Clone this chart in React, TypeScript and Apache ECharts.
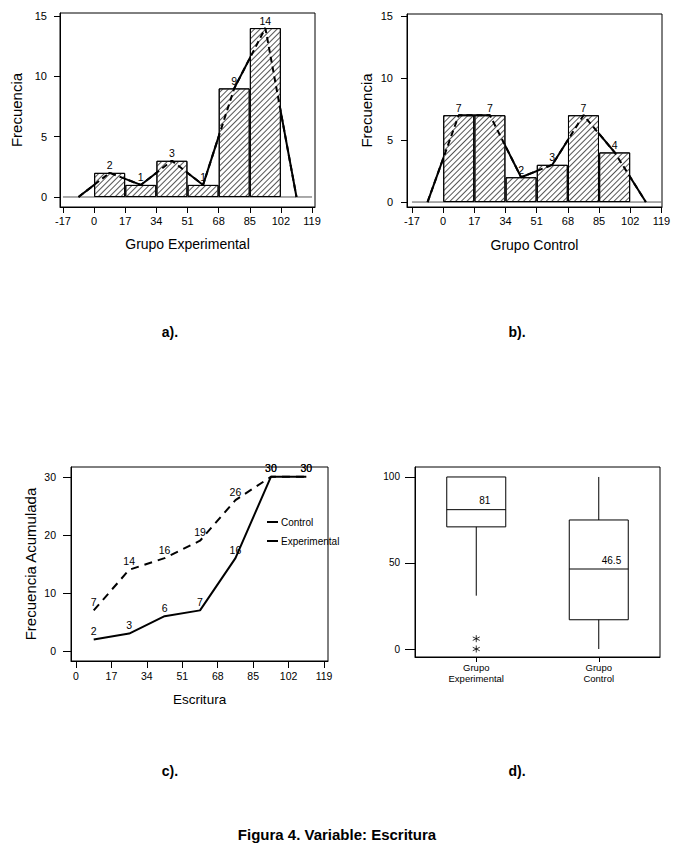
import React, { useEffect, useRef } from "react";
import * as echarts from "echarts";

// ---------- data ----------
const histTicks = [-17, 0, 17, 34, 51, 68, 85, 102, 119];
const binMids = [8.5, 25.5, 42.5, 59.5, 76.5, 93.5];
const polyX = [-8.5, 8.5, 25.5, 42.5, 59.5, 76.5, 93.5, 110.5];
const expFreq = [2, 1, 3, 1, 9, 14];
const ctrlFreq = [7, 7, 2, 3, 7, 4];
const freqTicks = [0, 5, 10, 15];

const cumX = [8.5, 25.5, 42.5, 59.5, 76.5, 93.5, 110.5];
const ctrlCum = [7, 14, 16, 19, 26, 30, 30];
const expCum = [2, 3, 6, 7, 16, 30, 30];
const cumXTicks = [0, 17, 34, 51, 68, 85, 102, 119];
const cumYTicks = [0, 10, 20, 30];

const boxGroups = ["Grupo\nExperimental", "Grupo\nControl"];
// [min, Q1, median, Q3, max]
const boxExp = [31, 71, 81, 100, 100];
const boxCtrl = [0, 17, 46.5, 75, 100];
const medianLabels = ["81", "46.5"];
const expOutliers = [6, 0];
const boxYTicks = [0, 50, 100];

const FONT = "'Liberation Sans', Arial, sans-serif";

const decal = {
  symbol: "rect",
  symbolSize: 1,
  dashArrayX: [1, 0],
  dashArrayY: [1, 2.2],
  rotation: -Math.PI / 4,
  color: "#555",
};

function valAxis(gridIndex: number, min: number, max: number, ticks: number[], extra: any = {}) {
  return {
    type: "value",
    gridIndex,
    min,
    max,
    splitLine: { show: false },
    axisLine: { show: true, onZero: false, lineStyle: { color: "#000", width: 1 } },
    axisTick: { show: true, length: 6, customValues: ticks, lineStyle: { color: "#000" } },
    axisLabel: { customValues: ticks, color: "#000", fontSize: 11, fontFamily: FONT, margin: 8 },
    nameLocation: "middle",
    nameTextStyle: { color: "#000", fontSize: 14, fontFamily: FONT },
    ...extra,
  };
}

function polyData(freq: number[]) {
  const ys = [0, ...freq, 0];
  return polyX.map((x, i) => [x, ys[i]]);
}

const labelCommon = { show: true, position: "top", distance: 2, color: "#000", fontSize: 10.5, fontFamily: FONT };

function histSeries(idx: number, freq: number[]) {
  const pts = polyData(freq);
  return [
    {
      type: "line",
      xAxisIndex: idx,
      yAxisIndex: idx,
      data: [[histTicks[0], 0], [histTicks[histTicks.length - 1], 0]],
      symbol: "none",
      lineStyle: { color: "#555", width: 1 },
      z: 1,
      silent: true,
    },
    {
      type: "line",
      xAxisIndex: idx,
      yAxisIndex: idx,
      data: pts,
      symbol: "none",
      lineStyle: { color: "#000", width: 2 },
      z: 2,
      silent: true,
    },
    {
      type: "bar",
      xAxisIndex: idx,
      yAxisIndex: idx,
      data: binMids.map((x, i) => [x, freq[i]]),
      barWidth: 31,
      itemStyle: { color: "#fff", borderColor: "#000", borderWidth: 1, decal },
      z: 3,
      silent: true,
    },
    {
      type: "line",
      xAxisIndex: idx,
      yAxisIndex: idx,
      data: pts,
      symbol: "circle",
      symbolSize: 0,
      showAllSymbol: true,
      itemStyle: { color: "#000" },
      lineStyle: { color: "#000", width: 2, type: [6, 4] },
      label: { ...labelCommon, formatter: (p: any) => (p.value[1] ? String(p.value[1]) : "") },
      labelLayout: { hideOverlap: false },
      z: 4,
      silent: true,
    },
  ];
}

export default function App() {
  const ref = useRef<HTMLDivElement>(null);
  useEffect(() => {
    if (!ref.current) return;
    const chart = echarts.init(ref.current, undefined, { renderer: "svg" });
    const gridStyle = { show: true, borderColor: "#000", borderWidth: 1, backgroundColor: "transparent", containLabel: false };
    const option: any = {
      animation: false,
      textStyle: { fontFamily: FONT },
      grid: [
        { ...gridStyle, left: 60, top: 13, width: 255, height: 194 },
        { ...gridStyle, left: 407, top: 14, width: 255, height: 193 },
        { ...gridStyle, left: 71, top: 467, width: 257, height: 194 },
        { ...gridStyle, left: 415, top: 467, width: 245, height: 190 },
      ],
      xAxis: [
        valAxis(0, -18.6, 120.6, histTicks, { name: "Grupo Experimental", nameGap: 30 }),
        valAxis(1, -19.7, 119.3, histTicks, { name: "Grupo Control", nameGap: 31 }),
        valAxis(2, -2.4, 120.9, cumXTicks, {
          name: "Escritura",
          nameGap: 31,
          nameTextStyle: { color: "#000", fontSize: 13.5, fontFamily: FONT },
          axisLabel: { customValues: cumXTicks, color: "#000", fontSize: 10.5, fontFamily: FONT, margin: 9 },
          axisTick: { show: true, length: 7, customValues: cumXTicks, lineStyle: { color: "#000" } },
        }),
        {
          type: "category",
          gridIndex: 3,
          data: boxGroups,
          boundaryGap: true,
          axisLine: { show: true, onZero: false, lineStyle: { color: "#000" } },
          axisTick: { show: true, alignWithLabel: true, length: 5, lineStyle: { color: "#000" } },
          axisLabel: { color: "#000", fontSize: 9.5, lineHeight: 11, fontFamily: FONT, margin: 5, interval: 0 },
          splitLine: { show: false },
        },
      ],
      yAxis: [
        valAxis(0, -0.83, 15.25, freqTicks, { name: "Frecuencia", nameGap: 36, nameTextStyle: { color: "#000", fontSize: 15, fontFamily: FONT }, axisLabel: { customValues: freqTicks, color: "#000", fontSize: 11, fontFamily: FONT, margin: 13 } }),
        valAxis(1, -0.4, 15.16, freqTicks, { name: "Frecuencia", nameGap: 33, nameTextStyle: { color: "#000", fontSize: 15, fontFamily: FONT }, axisLabel: { customValues: freqTicks, color: "#000", fontSize: 11, fontFamily: FONT, margin: 14 } }),
        valAxis(2, -1.72, 31.7, cumYTicks, {
          name: "Frecuencia Acumulada",
          nameGap: 33,
          nameTextStyle: { color: "#000", fontSize: 15, fontFamily: FONT },
          axisLabel: { customValues: cumYTicks, color: "#000", fontSize: 10.5, fontFamily: FONT, margin: 15 },
          axisTick: { show: true, length: 8, customValues: cumYTicks, lineStyle: { color: "#000" } },
        }),
        valAxis(3, -4.65, 105.8, boxYTicks, {
          axisLabel: { customValues: boxYTicks, color: "#000", fontSize: 10, fontFamily: FONT, margin: 15 },
          axisTick: { show: true, length: 10, customValues: boxYTicks, lineStyle: { color: "#000" } },
        }),
      ],
      legend: {
        data: [
          { name: "Control", icon: "rect" },
          { name: "Experimental", icon: "rect" },
        ],
        orient: "vertical",
        left: 262,
        top: 512,
        itemWidth: 11,
        itemHeight: 2,
        itemGap: 9,
        selectedMode: false,
        textStyle: { color: "#000", fontSize: 10, fontFamily: FONT, padding: [0, 0, 0, -2] },
      },
      series: [
        ...histSeries(0, expFreq),
        ...histSeries(1, ctrlFreq),
        {
          name: "Control",
          type: "line",
          xAxisIndex: 2,
          yAxisIndex: 2,
          data: cumX.map((x, i) => [x, ctrlCum[i]]),
          symbol: "circle",
          symbolSize: 0,
          showAllSymbol: true,
          itemStyle: { color: "#000" },
          lineStyle: { color: "#000", width: 2, type: [8, 6] },
          label: { ...labelCommon, distance: 3, formatter: (p: any) => String(p.value[1]) },
          labelLayout: { hideOverlap: false },
        },
        {
          name: "Experimental",
          type: "line",
          xAxisIndex: 2,
          yAxisIndex: 2,
          data: cumX.map((x, i) => [x, expCum[i]]),
          symbol: "circle",
          symbolSize: 0,
          showAllSymbol: true,
          itemStyle: { color: "#000" },
          lineStyle: { color: "#000", width: 2 },
          label: { ...labelCommon, distance: 3, formatter: (p: any) => String(p.value[1]) },
          labelLayout: { hideOverlap: false },
        },
        {
          type: "custom",
          xAxisIndex: 3,
          yAxisIndex: 3,
          data: [boxExp, boxCtrl].map((s, i) => [i, ...s]),
          encode: { x: 0, y: [1, 2, 3, 4, 5] },
          silent: true,
          renderItem: (params: any, api: any) => {
            const idx = api.value(0);
            const lo = api.coord([idx, api.value(1)]);
            const q1 = api.coord([idx, api.value(2)]);
            const med = api.coord([idx, api.value(3)]);
            const q3 = api.coord([idx, api.value(4)]);
            const hi = api.coord([idx, api.value(5)]);
            const half = 29.5;
            const cx = q1[0];
            const st = { stroke: "#000", lineWidth: 1, fill: "none" };
            return {
              type: "group",
              children: [
                { type: "rect", shape: { x: cx - half, y: q3[1], width: 2 * half, height: q1[1] - q3[1] }, style: { stroke: "#000", fill: "#fff", lineWidth: 1 } },
                { type: "line", shape: { x1: cx - half, y1: med[1], x2: cx + half, y2: med[1] }, style: st },
                { type: "line", shape: { x1: cx, y1: q1[1], x2: cx, y2: lo[1] }, style: st },
                { type: "line", shape: { x1: cx, y1: q3[1], x2: cx, y2: hi[1] }, style: st },
                {
                  type: "text",
                  x: cx + 3,
                  y: med[1] - 9,
                  style: { text: medianLabels[params.dataIndex], fill: "#000", font: `10px ${FONT}`, align: "left", verticalAlign: "middle" },
                },
              ],
            };
          },
        },
        {
          type: "scatter",
          xAxisIndex: 3,
          yAxisIndex: 3,
          data: expOutliers.map((v) => [0, v]),
          symbol: "path://M5,0L5,10M0.7,2.5L9.3,7.5M0.7,7.5L9.3,2.5",
          symbolSize: 7,
          itemStyle: { color: "none", borderColor: "#000", borderWidth: 1 },
          silent: true,
        },
      ],
      graphic: [
        { type: "text", x: 170, y: 332, style: { text: "a).", font: `bold 14px ${FONT}`, fill: "#000", align: "center", verticalAlign: "middle" } },
        { type: "text", x: 517, y: 332, style: { text: "b).", font: `bold 14px ${FONT}`, fill: "#000", align: "center", verticalAlign: "middle" } },
        { type: "text", x: 170, y: 771, style: { text: "c).", font: `bold 14px ${FONT}`, fill: "#000", align: "center", verticalAlign: "middle" } },
        { type: "text", x: 517, y: 771, style: { text: "d).", font: `bold 14px ${FONT}`, fill: "#000", align: "center", verticalAlign: "middle" } },
        { type: "text", x: 337, y: 834, style: { text: "Figura 4. Variable: Escritura", font: `bold 15px ${FONT}`, fill: "#000", align: "center", verticalAlign: "middle" } },
      ],
    };
    chart.setOption(option);
    return () => chart.dispose();
  }, []);
  return <div ref={ref} style={{ position: "fixed", left: 0, top: 0, width: 674, height: 844, background: "#fff" }} />;
}
